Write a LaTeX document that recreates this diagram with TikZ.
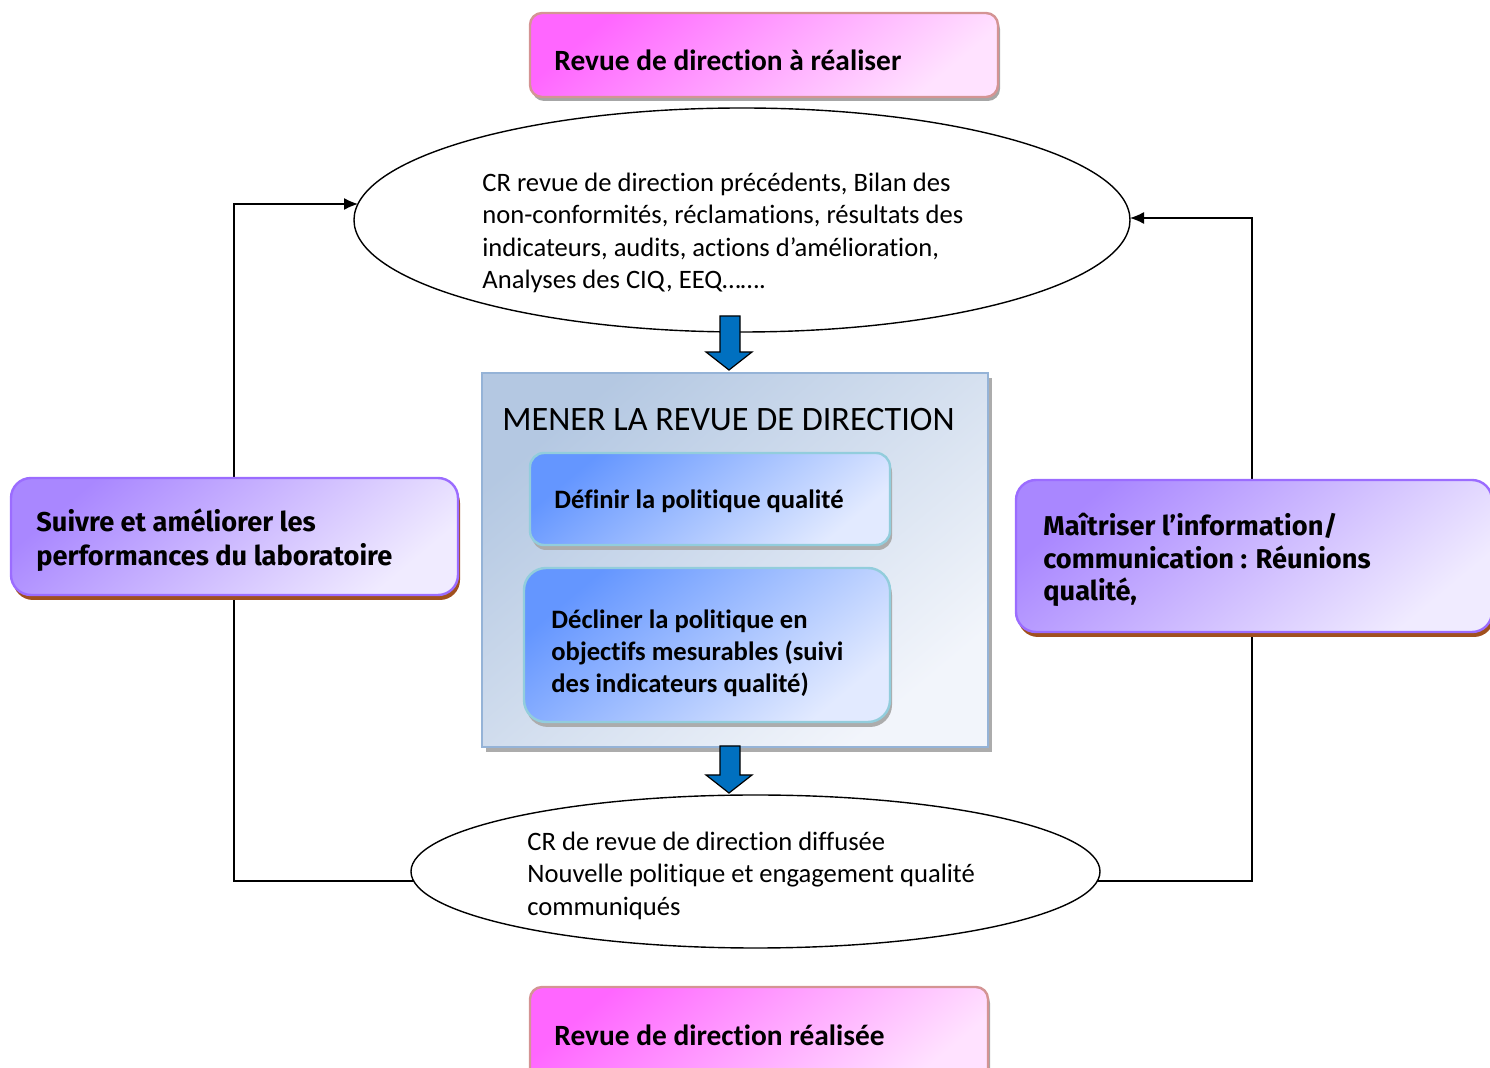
\documentclass[tikz,border=0pt]{standalone}
\usepackage{fontspec}
\setmainfont{Carlito}[Ligatures=NoCommon]
\newfontfamily\trebfont{Fira Sans}
\usetikzlibrary{shapes.geometric,shadows,arrows.meta,calc}

\definecolor{pinkA}{HTML}{FF66FF}
\definecolor{pinkB}{HTML}{FFE2FF}
\definecolor{pinkEdge}{HTML}{D49494}
\definecolor{purpA}{HTML}{A987FF}
\definecolor{purpB}{HTML}{F0EBFF}
\definecolor{purpEdge}{HTML}{9B6CFF}
\definecolor{brownShadow}{HTML}{A0501E}
\definecolor{blueA}{HTML}{6496FF}
\definecolor{blueB}{HTML}{E2EAFF}
\definecolor{blueEdge}{HTML}{92CDDC}
\definecolor{paneA}{HTML}{B4C8E2}
\definecolor{paneB}{HTML}{F2F5FB}
\definecolor{paneEdge}{HTML}{95B3D7}
\definecolor{arrowBlue}{HTML}{0070C0}

% stacked left-aligned lines whose reference point is the first baseline
\newcommand\linestack[1]{\vtop{\halign{##\hfil\cr#1\crcr}}}

\tikzset{
  box/.style={rectangle, inner sep=0pt},
  pinkbox/.style={box, draw=pinkEdge, line width=1.2pt, rounded corners=6pt,
    top color=pinkA, bottom color=pinkB, shading angle=40,
    drop shadow={shadow xshift=1pt, shadow yshift=-2pt, fill=gray!70, opacity=1}},
  purplebox/.style={box, draw=purpEdge, line width=1.2pt, rounded corners=10pt,
    top color=purpA, bottom color=purpB, shading angle=40,
    drop shadow={shadow xshift=1pt, shadow yshift=-2.5pt, fill=brownShadow, opacity=1}},
  bluebox/.style={box, draw=blueEdge, line width=1.2pt,
    top color=blueA, bottom color=blueB, shading angle=40,
    drop shadow={shadow xshift=1pt, shadow yshift=-2.5pt, fill=gray!65, opacity=1}},
  panebox/.style={box, draw=paneEdge, line width=1pt,
    top color=paneA, bottom color=paneB, shading angle=40,
    drop shadow={shadow xshift=2pt, shadow yshift=-2.5pt, fill=gray!65, opacity=1}},
  oval/.style={ellipse, draw=black, line width=0.7pt, fill=white, inner sep=0pt},
  conn/.style={draw=black, line width=0.65pt, -{Latex[length=7pt,width=6pt]}},
  blockarrow/.style={draw=black, line width=0.6pt, fill=arrowBlue, line join=miter},
  txt/.style={inner sep=0pt, anchor=base west},
}

\begin{document}
\begin{tikzpicture}[x=0.5pt,y=-0.5pt]
\useasboundingbox (0,0) rectangle (1490,1068);

% input and output ovals
\node[oval, minimum width=388pt, minimum height=112pt] (inputs) at (742,220) {};
\node[oval, minimum width=344.5pt, minimum height=76.5pt] (outputs) at (755.5,871.5) {};

% points where the loops meet the oval borders
\coordinate (inL)  at ($(inputs.center)+(-384,-16)$);
\coordinate (inR)  at ($(inputs.center)+(388,-2)$);
\coordinate (outL) at ($(outputs.center)+(-341.8,9.5)$);
\coordinate (outR) at ($(outputs.center)+(341.8,9.5)$);

% feedback loops around the review
\coordinate (leftrail) at (234,540);
\coordinate (rightrail) at (1252,540);
\draw[conn] (outL) -| (leftrail) |- (inL);
\draw[conn] (outR) -| (rightrail) |- (inR);

% start and end of the review
\node[pinkbox, minimum width=234pt, minimum height=42pt] (start) at (764,55) {};
\node[pinkbox, minimum width=229pt, minimum height=50pt] (finish) at (759,1037) {};

% central review panel and its two steps
\node[panebox, minimum width=253pt, minimum height=187pt] (review) at (735,560) {};
\node[bluebox, rounded corners=7pt, minimum width=180pt, minimum height=46pt] (policy) at (710,499) {};
\node[bluebox, rounded corners=11pt, minimum width=183pt, minimum height=77pt] (objectives) at (707,645) {};

% side processes
\node[purplebox, minimum width=223.5pt, minimum height=58.5pt] (monitor) at (234.5,536.5) {};
\node[purplebox, minimum width=238pt, minimum height=76pt] (inform) at (1254,556) {};

% block arrows into and out of the panel
\draw[blockarrow] (720,316) -- (740,316) -- (740,352) -- (752,352) -- (729,370)
  -- (706,352) -- (720,352) -- cycle;
\draw[blockarrow] (720,746) -- (740,746) -- (740,775) -- (752,775) -- (729,793)
  -- (706,775) -- (720,775) -- cycle;

% texts
\node[txt, font=\bfseries\fontsize{14.7}{17}\selectfont] (startlbl) at (554,71) {Revue de direction à réaliser};
\node[txt, font=\bfseries\fontsize{14.7}{17}\selectfont] (finishlbl) at (554,1046) {Revue de direction réalisée};

\node[txt, font=\fontsize{13.3}{16.25}\selectfont] (inputslbl) at (482,191.5)
  {\linestack{CR revue de direction précédents, Bilan des\cr
  non-conformités, réclamations, résultats des\cr
  indicateurs, audits, actions d’amélioration,\cr
  Analyses des CIQ, EEQ…….}};
\node[txt, font=\fontsize{13.3}{16.25}\selectfont] (outputslbl) at (527,850.5)
  {\linestack{CR de revue de direction diffusée\cr
  Nouvelle politique et engagement qualité\cr
  communiqués}};

\node[txt, font=\fontsize{17.1}{20}\selectfont] (reviewlbl) at (502,431) {MENER LA REVUE DE DIRECTION};
\node[txt, font=\bfseries\fontsize{13.3}{16}\selectfont] (policylbl) at (554,508.5) {Définir la politique qualité};
\node[txt, font=\bfseries\fontsize{13.3}{16}\selectfont] (objectiveslbl) at (551,628.5)
  {\linestack{Décliner la politique en\cr
  objectifs mesurables (suivi\cr
  des indicateurs qualité)}};

\node[txt, font=\trebfont\bfseries\fontsize{13.6}{17}\selectfont] (monitorlbl) at (36,532)
  {\linestack{Suivre et améliorer les\cr
  performances du laboratoire}};
\node[txt, font=\trebfont\bfseries\fontsize{13.6}{16.25}\selectfont] (informlbl) at (1043,536)
  {\linestack{Maîtriser l’information/\cr
  communication : Réunions\cr
  qualité,}};
\end{tikzpicture}
\end{document}
